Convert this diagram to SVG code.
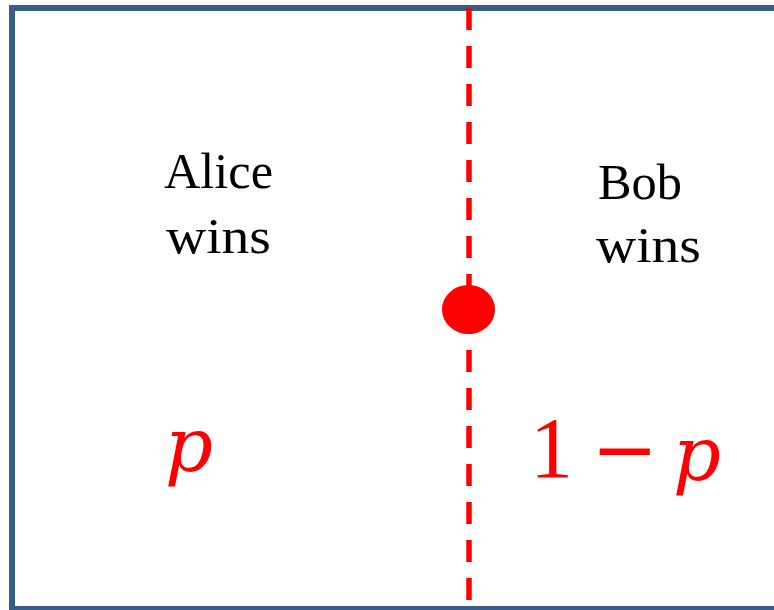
<svg xmlns="http://www.w3.org/2000/svg" width="774" height="610" viewBox="0 0 774 610">
<style>
.lbl{font-family:"Liberation Serif","Times New Roman",serif;font-size:51px;fill:#000}
.num{font-family:"Liberation Serif","Times New Roman",serif;font-size:86px;fill:#FF0000}
.op{font-family:"DejaVu Sans",sans-serif;font-size:80px;fill:#FF0000}
.var{font-family:"DejaVu Serif",serif;font-style:italic;font-size:75px;fill:#FF0000}
</style>
<rect x="0" y="0" width="774" height="610" fill="#fff"/>
<g id="frame"><rect x="12" y="8" width="800" height="601" fill="none" stroke="#385D8A" stroke-width="6"/></g>
<g id="connectors"><line x1="469" y1="8" x2="469" y2="607" stroke="#FF0000" stroke-width="5.5" stroke-dasharray="22 16"/></g>
<g id="point"><ellipse cx="468.5" cy="309.5" rx="26.5" ry="24.5" fill="#FF0000"/></g>
<g id="alice"><text class="lbl" x="164" y="188" textLength="109" lengthAdjust="spacingAndGlyphs">Alice</text><text class="lbl" x="166" y="253" textLength="105" lengthAdjust="spacingAndGlyphs">wins</text></g>
<g id="bob"><text class="lbl" x="598" y="199" textLength="84" lengthAdjust="spacingAndGlyphs">Bob</text><text class="lbl" x="596" y="262" textLength="105" lengthAdjust="spacingAndGlyphs">wins</text></g>
<g id="p-left"><text class="var" x="165" y="471">p</text></g>
<g id="p-right"><text class="num" x="530" y="477">1</text><text class="op" x="591" y="477">−</text><text class="var" x="673" y="480">p</text></g>
</svg>
